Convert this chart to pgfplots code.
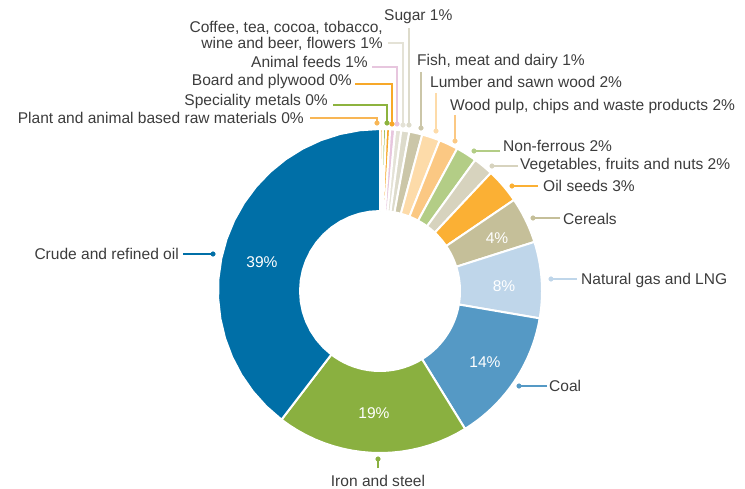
\documentclass[border=0pt]{standalone}
\usepackage{pgfplots}
\pgfplotsset{compat=1.18}
\usepackage{pgfplotstable}
\usepackage{fontspec}
\setmainfont{Liberation Sans}
\definecolor{txt}{HTML}{3C3C3C}
\definecolor{c0}{HTML}{F8B655}
\definecolor{c1}{HTML}{8DB33F}
\definecolor{c2}{HTML}{F7A829}
\definecolor{c3}{HTML}{E7C6DE}
\definecolor{c4}{HTML}{E4E2D6}
\definecolor{c5}{HTML}{DDDBCB}
\definecolor{c6}{HTML}{CBC6A8}
\definecolor{c7}{HTML}{FDDBA9}
\definecolor{c8}{HTML}{FBC883}
\definecolor{c9}{HTML}{B3CD86}
\definecolor{c10}{HTML}{D7D3BE}
\definecolor{c11}{HTML}{FBB034}
\definecolor{c12}{HTML}{C5BF99}
\definecolor{c13}{HTML}{BFD6EA}
\definecolor{c14}{HTML}{5599C5}
\definecolor{c15}{HTML}{8AB040}
\definecolor{c16}{HTML}{006FA7}
% shares in percent, clockwise from 12 o'clock
\pgfplotstableread[col sep=comma]{
name,value
Plant and animal based raw materials,0.3
Speciality metals,0.3
Board and plywood,0.4
Animal feeds,0.5
Coffee tea cocoa tobacco wine and beer flowers,0.6
Sugar,0.8
Fish meat and dairy,1.3
Lumber and sawn wood,1.8
Wood pulp chips and waste products,1.9
Non-ferrous,2.1
Vegetables fruits and nuts,2.0
Oil seeds,3.5
Cereals,4.6
Natural gas and LNG,7.6
Coal,13.5
Iron and steel,19.2
Crude and refined oil,39.6
}\shares
\newcommand\cum{0}
\foreach \i in {0,...,16}{%
  \pgfplotstablegetelem{\i}{value}\of\shares
  \pgfmathsetmacro\s{\cum*3.6}%
  \pgfmathsetmacro\newcum{\cum+\pgfplotsretval}%
  \pgfmathsetmacro\e{\newcum*3.6}%
  \expandafter\xdef\csname ws\i\endcsname{\s}%
  \expandafter\xdef\csname we\i\endcsname{\e}%
  \xdef\cum{\newcum}%
}
\tikzset{lab/.style={font=\fontsize{15.6}{18}\selectfont, text=txt, inner sep=0pt},
         pct/.style={font=\fontsize{15.6}{18}\selectfont, text=white, inner sep=0pt}}
\newcommand\lead[3]{%
  \addplot[#1, line width=1.2pt] coordinates {#2};
  \addplot[#1, only marks, mark=*, mark size=2.3pt] coordinates {#3};
}
\begin{document}
\begin{tikzpicture}
\begin{axis}[
  scale only axis, width=745bp, height=489bp,
  xmin=0, xmax=745, ymin=0, ymax=489, y dir=reverse,
  hide axis, clip=false,
]
\path (axis cs:0,0) rectangle (axis cs:745,489);
\pgfplotsinvokeforeach{0,...,16}{%
  \edef\temp{\noexpand\addplot[fill=c#1, draw=white, line width=2pt, line join=round, samples at={0,...,40}]
    ({380+(x<=20?162:80)*sin(x<=20?\csname ws#1\endcsname+(\csname we#1\endcsname-\csname ws#1\endcsname)*x/20:\csname we#1\endcsname-(\csname we#1\endcsname-\csname ws#1\endcsname)*(x-21)/19)},
     {291-(x<=20?162:80)*cos(x<=20?\csname ws#1\endcsname+(\csname we#1\endcsname-\csname ws#1\endcsname)*x/20:\csname we#1\endcsname-(\csname we#1\endcsname-\csname ws#1\endcsname)*(x-21)/19)}) -- cycle;}%
  \temp
}
% leader lines
\lead{c16}{(183,254)(213,254)}{(213,254)}
\lead{c15}{(378,468)(378,459)}{(378,459)}
\lead{c14}{(547,386)(519,386)}{(519,386)}
\lead{c13}{(577,279)(551,279)}{(551,279)}
\lead{c12}{(560,218)(533,218)}{(533,218)}
\lead{c11}{(538,186)(512,186)}{(512,186)}
\lead{c10}{(518,166)(492,166)}{(492,166)}
\lead{c9}{(500,151)(474,151)}{(474,151)}
\lead{c8}{(455,115)(455,141)}{(455,141)}
\lead{c7}{(436,93)(436,131)}{(436,131)}
\lead{c6}{(421,72)(421,128)}{(421,128)}
\lead{c5}{(409,28)(409,125)}{(409,125)}
\lead{c4}{(388,43)(403,43)(403,125)}{(403,125)}
\lead{c3}{(372,67)(397,67)(397,124)}{(397,124)}
\lead{c2}{(355,84)(392,84)(392,124)}{(392,124)}
\lead{c1}{(333,105)(387,105)(387,123)}{(387,123)}
\lead{c0}{(310,118)(377,118)(377,123)}{(377,123)}
% labels
\node[lab, anchor=base east] at (axis cs:179,259.5) {Crude and refined oil};
\node[lab, anchor=base] at (axis cs:378,486.5) {Iron and steel};
\node[lab, anchor=base west] at (axis cs:549,391.5) {Coal};
\node[lab, anchor=base west] at (axis cs:581,284) {Natural gas and LNG};
\node[lab, anchor=base west] at (axis cs:563,224.5) {Cereals};
\node[lab, anchor=base west] at (axis cs:543,191.5) {Oil seeds 3\%};
\node[lab, anchor=base west] at (axis cs:520,169.5) {Vegetables, fruits and nuts 2\%};
\node[lab, anchor=base west] at (axis cs:503,151.5) {Non-ferrous 2\%};
\node[lab, anchor=base west] at (axis cs:450,110.5) {Wood pulp, chips and waste products 2\%};
\node[lab, anchor=base west] at (axis cs:430,87.5) {Lumber and sawn wood 2\%};
\node[lab, anchor=base west] at (axis cs:417,65.5) {Fish, meat and dairy 1\%};
\node[lab, anchor=base west] at (axis cs:384,21) {Sugar 1\%};
\node[lab, anchor=base east] at (axis cs:383,32.5) {Coffee, tea, cocoa, tobacco,};
\node[lab, anchor=base east] at (axis cs:383,48.5) {wine and beer, flowers 1\%};
\node[lab, anchor=base east] at (axis cs:368,67.5) {Animal feeds 1\%};
\node[lab, anchor=base east] at (axis cs:352,85.5) {Board and plywood 0\%};
\node[lab, anchor=base east] at (axis cs:328,105.5) {Speciality metals 0\%};
\node[lab, anchor=base east] at (axis cs:304,123.5) {Plant and animal based raw materials 0\%};
% percentages
\node[pct] at (axis cs:262,262) {39\%};
\node[pct] at (axis cs:374,413) {19\%};
\node[pct] at (axis cs:485,362) {14\%};
\node[pct] at (axis cs:504,286) {8\%};
\node[pct] at (axis cs:497,238) {4\%};
\end{axis}
\end{tikzpicture}
\end{document}
